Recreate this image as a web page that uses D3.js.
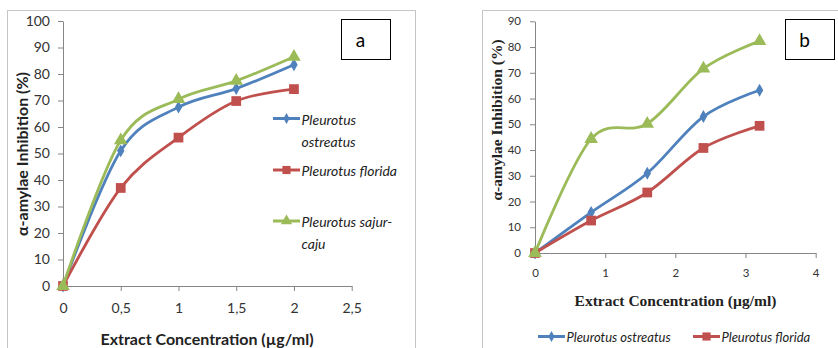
<!DOCTYPE html>
<html><head><meta charset="utf-8">
<script src="https://cdn.jsdelivr.net/npm/d3@7"></script>
<style>
html,body{margin:0;padding:0;background:#fff;}
svg{display:block;}
</style></head>
<body>
<svg id="chart" width="838" height="348"></svg>
<script>
// ---------- Data ----------
const seriesNames = ["Pleurotus ostreatus", "Pleurotus florida", "Pleurotus sajur-caju"];
const seriesColors = ["#4F81BD", "#C0504D", "#9BBB59"];

// Panel a
const xA = [0, 0.5, 1, 1.5, 2];
const aOstreatus = [0, 51, 67.5, 74.5, 83.5];
const aFlorida = [0, 37, 56, 69.8, 74.3];
const aSajurCaju = [0, 55, 70.5, 77.4, 86.5];
const yTicksA = [0, 10, 20, 30, 40, 50, 60, 70, 80, 90, 100];
const xTicksA = [0, 0.5, 1, 1.5, 2, 2.5];
const xTickLabelsA = ["0", "0,5", "1", "1,5", "2", "2,5"];

// Panel b
const xB = [0, 0.8, 1.6, 2.4, 3.2];
const bOstreatus = [0, 15.8, 31, 53, 63.2];
const bFlorida = [0, 12.6, 23.5, 40.8, 49.4];
const bSajurCaju = [0, 44.3, 50.2, 71.6, 82.3];
const yTicksB = [0, 10, 20, 30, 40, 50, 60, 70, 80, 90];
const xTicksB = [0, 1, 2, 3, 4];

const yTitle = "α-amylae Inhibition (%)";
const xTitle = "Extract Concentration (µg/ml)";

// ---------- Drawing ----------
const svg = d3.select("#chart");
svg.append("rect").attr("width", 838).attr("height", 348).attr("fill", "#fff");

const symbols = [d3.symbolDiamond, d3.symbolSquare, d3.symbolTriangle];
const symSizes = [48, 95, 80];
const axisColor = "#868686";

function drawPanel(cfg) {
  const g = svg.append("g");
  // frame
  g.append("rect").attr("x", cfg.frame[0] + 0.5).attr("y", cfg.frame[1] + 0.5)
    .attr("width", cfg.frame[2]).attr("height", cfg.frame[3])
    .attr("fill", "none").attr("stroke", "#c6c6c6").attr("stroke-width", 1);

  const x = d3.scaleLinear().domain(cfg.xDomain).range(cfg.xRange);
  const y = d3.scaleLinear().domain(cfg.yDomain).range(cfg.yRange);

  const yAxis = d3.axisLeft(y).tickValues(cfg.yTicks).tickSize(5).tickSizeOuter(0).tickPadding(cfg.yPad);
  const xAxis = d3.axisBottom(x).tickValues(cfg.xTicks).tickSize(5).tickSizeOuter(0).tickPadding(cfg.xPad)
    .tickFormat((d, i) => cfg.xTickLabels ? cfg.xTickLabels[i] : String(d));

  const ya = g.append("g").attr("transform", `translate(${x(0)},0)`).call(yAxis);
  const xa = g.append("g").attr("transform", `translate(0,${y(0)})`).call(xAxis);
  [ya, xa].forEach(a => {
    a.select(".domain").attr("stroke", axisColor).attr("stroke-width", 1);
    a.selectAll(".tick line").attr("stroke", axisColor);
    a.selectAll(".tick text").attr("fill", "#333").attr("font-family", "Lato, sans-serif")
      .attr("font-size", cfg.tickFont);
  });

  // titles
  g.append("text").attr("x", cfg.xTitlePos[0]).attr("y", cfg.xTitlePos[1])
    .attr("text-anchor", "middle").attr("dominant-baseline", "central")
    .attr("font-family", cfg.titleFamily).attr("font-weight", "bold").attr("font-size", cfg.titleFont)
    .attr("fill", "#222").text(xTitle);
  g.append("text").attr("transform", `translate(${cfg.yTitlePos[0]},${cfg.yTitlePos[1]}) rotate(-90)`)
    .attr("text-anchor", "middle").attr("dominant-baseline", "central")
    .attr("font-family", cfg.titleFamily).attr("font-weight", "bold").attr("font-size", cfg.titleFont)
    .attr("fill", "#222").text(yTitle);

  // series
  const line = d3.line().x(d => x(d[0])).y(d => y(d[1])).curve(d3.curveCardinal.tension(0));
  cfg.series.forEach((vals, i) => {
    const pts = cfg.xs.map((xv, j) => [xv, vals[j]]);
    g.append("path").datum(pts).attr("d", line).attr("fill", "none")
      .attr("stroke", seriesColors[i]).attr("stroke-width", 2.8);
    g.selectAll(null).data(pts).enter().append("path")
      .attr("transform", d => `translate(${x(d[0])},${y(d[1])})`)
      .attr("d", d3.symbol().type(symbols[i]).size(symSizes[i]))
      .attr("fill", seriesColors[i]);
  });

  // label box
  g.append("rect").attr("x", cfg.box[0] + 0.5).attr("y", cfg.box[1] + 0.5)
    .attr("width", cfg.box[2]).attr("height", cfg.box[3])
    .attr("fill", "#fff").attr("stroke", "#000").attr("stroke-width", 1);
  g.append("text").attr("x", cfg.box[0] + cfg.box[2] / 2 - 5).attr("y", cfg.box[1] + cfg.box[3] / 2)
    .attr("text-anchor", "middle").attr("dominant-baseline", "central")
    .attr("font-family", "Lato, sans-serif").attr("font-size", 19).attr("fill", "#000").text(cfg.label);

  // legend
  cfg.legend.forEach(item => {
    const i = item.idx;
    const lg = g.append("g");
    lg.append("line").attr("x1", item.x).attr("x2", item.x + 27).attr("y1", item.y).attr("y2", item.y)
      .attr("stroke", seriesColors[i]).attr("stroke-width", 3);
    lg.append("path").attr("transform", `translate(${item.x + 13.5},${item.y})`)
      .attr("d", d3.symbol().type(symbols[i]).size(symSizes[i] * 0.7)).attr("fill", seriesColors[i]);
    const t = lg.append("text").attr("x", item.x + 28.5).attr("y", item.y)
      .attr("dominant-baseline", "central").attr("font-family", "Lato, sans-serif")
      .attr("font-style", "italic").attr("font-size", cfg.legendFont).attr("fill", "#222");
    item.lines.forEach((ln, k) => {
      t.append("tspan").attr("x", item.x + 28.5).attr("dy", k === 0 ? 0 : item.lh).text(ln);
    });
  });
}

drawPanel({
  frame: [7, 10, 408, 345],
  xDomain: [0, 2.5], xRange: [63, 351.7],
  yDomain: [0, 100], yRange: [286, 21],
  yTicks: yTicksA, xTicks: xTicksA, xTickLabels: xTickLabelsA,
  yPad: 8, xPad: 12, tickFont: 14,
  titleFamily: "Lato, sans-serif", titleFont: 16,
  xTitlePos: [207, 338], yTitlePos: [21, 154],
  xs: xA, series: [aOstreatus, aFlorida, aSajurCaju],
  box: [341, 19, 49, 40], label: "a",
  legendFont: 14,
  legend: [
    {idx: 0, x: 273, y: 118.5, lines: ["Pleurotus", "ostreatus"], lh: 22},
    {idx: 1, x: 273, y: 170, lines: ["Pleurotus florida"], lh: 22},
    {idx: 2, x: 273, y: 221, lines: ["Pleurotus sajur-", "caju"], lh: 22}
  ]
});

drawPanel({
  frame: [482, 10, 400, 345],
  xDomain: [0, 4], xRange: [535, 815.7],
  yDomain: [0, 90], yRange: [253, 21.3],
  yTicks: yTicksB, xTicks: xTicksB, xTickLabels: null,
  yPad: 9, xPad: 11, tickFont: 11.5,
  titleFamily: "'Liberation Serif', serif", titleFont: 15.5,
  xTitlePos: [675.5, 300], yTitlePos: [496.5, 120],
  xs: xB, series: [bOstreatus, bFlorida, bSajurCaju],
  box: [785, 19, 49, 40], label: "b",
  legendFont: 13,
  legend: [
    {idx: 0, x: 538, y: 336.5, lines: ["Pleurotus ostreatus"], lh: 0},
    {idx: 1, x: 693, y: 336.5, lines: ["Pleurotus florida"], lh: 0}
  ]
});
</script>
</body></html>
